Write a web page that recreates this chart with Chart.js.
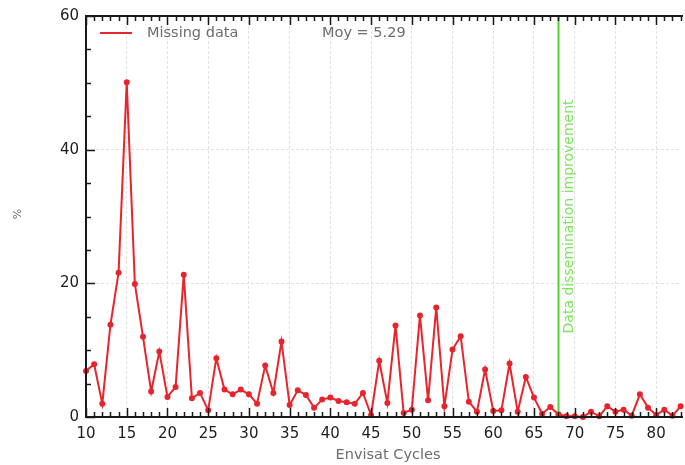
<!DOCTYPE html>
<html>
<head>
<meta charset="utf-8">
<script src="https://cdn.jsdelivr.net/npm/chart.js@4.4.1/dist/chart.umd.min.js"></script>
<style>
  html, body { margin: 0; padding: 0; background: #fff; }
  #wrap { width: 685px; height: 465px; }
</style>
</head>
<body>
<div id="wrap"><canvas id="c" width="685" height="465"></canvas></div>
<script>
// Envisat cycle numbers and the percentage of missing data per cycle
const cycles = [
  10, 11, 12, 13, 14, 15, 16, 17, 18, 19, 20, 21, 22, 23, 24, 25, 26, 27, 28, 29,
  30, 31, 32, 33, 34, 35, 36, 37, 38, 39, 40, 41, 42, 43, 44, 45, 46, 47, 48, 49,
  50, 51, 52, 53, 54, 55, 56, 57, 58, 59, 60, 61, 62, 63, 64, 65, 66, 67, 68, 69,
  70, 71, 72, 73, 74, 75, 76, 77, 78, 79, 80, 81, 82, 83
];
const missingPct = [
  6.9, 7.9, 2.0, 13.8, 21.6, 50.1, 19.9, 12.0, 3.8, 9.8, 3.0, 4.5, 21.3, 2.8, 3.6, 1.0, 8.8, 4.1, 3.4, 4.1,
  3.4, 2.0, 7.7, 3.6, 11.3, 1.8, 4.0, 3.3, 1.4, 2.6, 2.9, 2.4, 2.2, 2.0, 3.6, 0.3, 8.4, 2.1, 13.7, 0.6,
  1.1, 15.2, 2.5, 16.4, 1.6, 10.1, 12.1, 2.3, 0.8, 7.1, 0.9, 1.0, 8.0, 0.8, 6.0, 2.9, 0.5, 1.5, 0.4, 0.1,
  0.1, 0.0, 0.8, 0.1, 1.6, 0.8, 1.1, 0.2, 3.4, 1.4, 0.3, 1.1, 0.2, 1.6
];
const xTicks = [10, 15, 20, 25, 30, 35, 40, 45, 50, 55, 60, 65, 70, 75, 80];
const yTicks = [0, 20, 40, 60];
const meanLabel = 'Moy = 5.29';
const seriesLabel = 'Missing data';
const eventCycle = 68;
const eventLabel = 'Data dissemination improvement';

const RED = '#e8242c';
const GREEN = '#4fd12f';
const FONT = '"DejaVu Sans", "Liberation Sans", sans-serif';

// Frame, inward ticks, event marker, legend and axis titles
const decorations = {
  id: 'decorations',
  afterDatasetsDraw(chart) {
    const ctx = chart.ctx;
    const xs = chart.scales.x, ys = chart.scales.y;
    const a = chart.chartArea;
    ctx.save();

    // event marker with its caption reading upwards
    const gx = Math.round(xs.getPixelForValue(eventCycle)) + 0.5;
    ctx.strokeStyle = GREEN;
    ctx.lineWidth = 2;
    ctx.beginPath();
    ctx.moveTo(gx, a.top);
    ctx.lineTo(gx, a.bottom);
    ctx.stroke();
    ctx.save();
    ctx.translate(gx + 11, ys.getPixelForValue(12.5));
    ctx.rotate(-Math.PI / 2);
    ctx.fillStyle = '#7ee35e';
    ctx.font = '14px ' + FONT;
    ctx.textAlign = 'left';
    ctx.textBaseline = 'middle';
    ctx.fillText(eventLabel, 0, 0);
    ctx.restore();

    // frame
    ctx.strokeStyle = '#1a1a1a';
    ctx.lineWidth = 2;
    ctx.beginPath();
    ctx.moveTo(a.right + 2, a.top);
    ctx.lineTo(a.left, a.top);
    ctx.lineTo(a.left, a.bottom);
    ctx.lineTo(a.right + 2, a.bottom);
    ctx.stroke();

    // x ticks on bottom and top axes
    ctx.lineWidth = 1.5;
    ctx.beginPath();
    for (let v = 10; v <= xs.max; v++) {
      const px = Math.round(xs.getPixelForValue(v)) + 0.5;
      const len = (v % 5 === 0) ? 9 : 5;
      ctx.moveTo(px, a.bottom);
      ctx.lineTo(px, a.bottom - len);
      ctx.moveTo(px, a.top);
      ctx.lineTo(px, a.top + len);
    }
    // y ticks on the left axis
    for (let v = 0; v <= 60; v += 5) {
      const py = Math.round(ys.getPixelForValue(v)) + 0.5;
      const len = (v % 20 === 0) ? 9 : 5;
      ctx.moveTo(a.left, py);
      ctx.lineTo(a.left + len, py);
    }
    ctx.stroke();

    // legend
    ctx.strokeStyle = RED;
    ctx.lineWidth = 2;
    ctx.beginPath();
    ctx.moveTo(100, 33);
    ctx.lineTo(132, 33);
    ctx.stroke();
    ctx.fillStyle = '#6d6d6d';
    ctx.font = '14.5px ' + FONT;
    ctx.textAlign = 'left';
    ctx.textBaseline = 'middle';
    ctx.fillText(seriesLabel, 147, 33);
    ctx.fillText(meanLabel, 322, 33);

    // axis titles
    ctx.textAlign = 'center';
    ctx.fillText('Envisat Cycles', 388, 455);
    ctx.save();
    ctx.translate(18, 214);
    ctx.rotate(-Math.PI / 2);
    ctx.font = '11px ' + FONT;
    ctx.fillText('%', 0, 0);
    ctx.restore();

    ctx.restore();
  }
};

new Chart(document.getElementById('c'), {
  type: 'line',
  data: {
    datasets: [{
      label: seriesLabel,
      data: cycles.map((c, i) => ({ x: c, y: missingPct[i] })),
      borderColor: RED,
      backgroundColor: RED,
      borderWidth: 2,
      pointRadius: 2,
      pointHoverRadius: 2,
      tension: 0,
      clip: 4
    }]
  },
  options: {
    responsive: false,
    animation: false,
    events: [],
    layout: { padding: { top: 16, right: 0, left: 0, bottom: 0 } },
    plugins: { legend: { display: false }, tooltip: { enabled: false } },
    scales: {
      x: {
        type: 'linear',
        min: 10,
        max: 83.05,
        afterBuildTicks(scale) { scale.ticks = xTicks.map(v => ({ value: v })); },
        afterFit(scale) { scale.height = 48; },
        grid: { color: '#e2e2e2', lineWidth: 1, drawTicks: false },
        border: { display: false, dash: [3, 2] },
        ticks: {
          padding: 8,
          color: '#1e1e1e',
          font: { family: FONT, size: 15 },
          maxRotation: 0,
          autoSkip: false
        }
      },
      y: {
        min: 0,
        max: 60,
        afterBuildTicks(scale) { scale.ticks = yTicks.map(v => ({ value: v })); },
        afterFit(scale) { scale.width = 86; },
        grid: { color: '#e2e2e2', lineWidth: 1, drawTicks: false },
        border: { display: false, dash: [3, 2] },
        ticks: {
          padding: 7,
          color: '#1e1e1e',
          font: { family: FONT, size: 15 }
        }
      }
    }
  },
  plugins: [decorations]
});
</script>
</body>
</html>
